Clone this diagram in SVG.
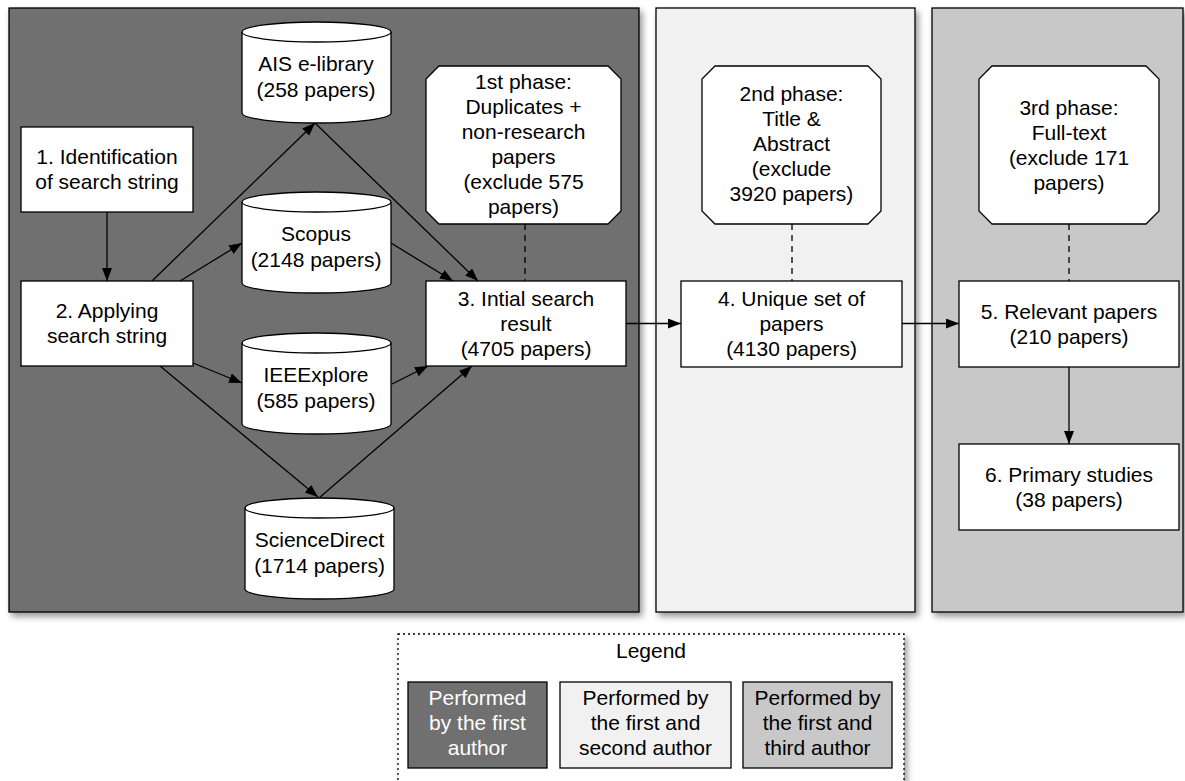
<svg xmlns="http://www.w3.org/2000/svg" width="1185" height="781" viewBox="0 0 1185 781">
<style>
text{font-family:"Liberation Sans",Arial,sans-serif;font-size:21px;fill:#000;text-anchor:middle}
.node{fill:#fff;stroke:#000;stroke-width:1.3}
.edge{fill:none;stroke:#000;stroke-width:1.3}
.dash{fill:none;stroke:#000;stroke-width:1.3;stroke-dasharray:6,5}
.panel{stroke:#000;stroke-width:1.3}
</style>
<defs>
<filter id="sh" x="-5%" y="-5%" width="115%" height="115%">
<feDropShadow dx="3" dy="4" stdDeviation="3" flood-color="#000" flood-opacity="0.4"/>
</filter>
<marker id="arr" markerUnits="userSpaceOnUse" markerWidth="14" markerHeight="12" refX="13" refY="5" orient="auto">
<path d="M0,0 L13,5 L0,10 Z" fill="#000"/>
</marker>
</defs>
<rect width="1185" height="781" fill="#fff"/>
<g id="panels">
<rect id="panel1" class="panel" x="9" y="8" width="630" height="604" fill="#707070" filter="url(#sh)"/>
<rect id="panel2" class="panel" x="656" y="8" width="259" height="604" fill="#f1f1f1" filter="url(#sh)"/>
<rect id="panel3" class="panel" x="932" y="8" width="251" height="604" fill="#c8c8c8" filter="url(#sh)"/>
</g>
<g id="connectors">
<line class="edge" x1="107" y1="212" x2="107" y2="281" marker-end="url(#arr)"/>
<line class="edge" x1="152" y1="281" x2="315" y2="123" marker-end="url(#arr)"/>
<line class="edge" x1="180" y1="281" x2="242" y2="243" marker-end="url(#arr)"/>
<line class="edge" x1="193" y1="363" x2="242" y2="383" marker-end="url(#arr)"/>
<line class="edge" x1="160" y1="366" x2="318" y2="497" marker-end="url(#arr)"/>
<line class="edge" x1="315" y1="123" x2="478" y2="281" marker-end="url(#arr)"/>
<line class="edge" x1="391" y1="243" x2="453" y2="281" marker-end="url(#arr)"/>
<line class="edge" x1="392" y1="384" x2="428" y2="366" marker-end="url(#arr)"/>
<line class="edge" x1="319" y1="498" x2="472" y2="366" marker-end="url(#arr)"/>
<line class="edge" x1="626" y1="323.5" x2="681" y2="323.5" marker-end="url(#arr)"/>
<line class="edge" x1="902" y1="323.5" x2="959" y2="323.5" marker-end="url(#arr)"/>
<line class="edge" x1="1069" y1="367" x2="1069" y2="444" marker-end="url(#arr)"/>
<line class="dash" x1="525" y1="224" x2="525" y2="281"/>
<line class="dash" x1="792" y1="224" x2="792" y2="281"/>
<line class="dash" x1="1069" y1="224" x2="1069" y2="281"/>
</g>
<g id="n1">
<rect class="node" x="21" y="127" width="172" height="85"/>
<text x="107" y="164">1. Identification</text>
<text x="107" y="189">of search string</text>
</g>
<g id="n2">
<rect class="node" x="21" y="281" width="172" height="85"/>
<text x="107" y="318">2. Applying</text>
<text x="107" y="343">search string</text>
</g>
<g id="ais">
<path class="node" d="M242,32 A74.5,10 0 0 1 391,32 L391,113 A74.5,10 0 0 1 242,113 Z"/>
<path class="edge" d="M242,32 A74.5,10 0 0 0 391,32"/>
<text x="316" y="71">AIS e-library</text>
<text x="316" y="97">(258 papers)</text>
</g>
<g id="scopus">
<path class="node" d="M242,202 A74.5,10 0 0 1 391,202 L391,283 A74.5,10 0 0 1 242,283 Z"/>
<path class="edge" d="M242,202 A74.5,10 0 0 0 391,202"/>
<text x="316" y="241">Scopus</text>
<text x="316" y="267">(2148 papers)</text>
</g>
<g id="ieee">
<path class="node" d="M242,343 A74.5,10 0 0 1 391,343 L391,424 A74.5,10 0 0 1 242,424 Z"/>
<path class="edge" d="M242,343 A74.5,10 0 0 0 391,343"/>
<text x="316" y="382">IEEExplore</text>
<text x="316" y="408">(585 papers)</text>
</g>
<g id="sciencedirect">
<path class="node" d="M245,508 A74.5,10 0 0 1 394,508 L394,589 A74.5,10 0 0 1 245,589 Z"/>
<path class="edge" d="M245,508 A74.5,10 0 0 0 394,508"/>
<text x="319.5" y="547">ScienceDirect</text>
<text x="319.5" y="573">(1714 papers)</text>
</g>
<g id="phase1">
<path class="node" d="M439,66 L608,66 L621,79 L621,211 L608,224 L439,224 L426,211 L426,79 Z"/>
<text x="523.5" y="88.5">1st phase:</text>
<text x="523.5" y="113.5">Duplicates +</text>
<text x="523.5" y="138.5">non-research</text>
<text x="523.5" y="163.5">papers</text>
<text x="523.5" y="188.5">(exclude 575</text>
<text x="523.5" y="213.5">papers)</text>
</g>
<g id="phase2">
<path class="node" d="M715,66 L868,66 L881,79 L881,211 L868,224 L715,224 L702,211 L702,79 Z"/>
<text x="791.5" y="100.5">2nd phase:</text>
<text x="791.5" y="125.5">Title &amp;</text>
<text x="791.5" y="150.5">Abstract</text>
<text x="791.5" y="175.5">(exclude</text>
<text x="791.5" y="200.5">3920 papers)</text>
</g>
<g id="phase3">
<path class="node" d="M992,66 L1146,66 L1159,79 L1159,211 L1146,224 L992,224 L979,211 L979,79 Z"/>
<text x="1069" y="115">3rd phase:</text>
<text x="1069" y="140">Full-text</text>
<text x="1069" y="165">(exclude 171</text>
<text x="1069" y="190">papers)</text>
</g>
<g id="n3">
<rect class="node" x="426" y="281" width="200" height="85"/>
<text x="526" y="305.5">3. Intial search</text>
<text x="526" y="330.5">result</text>
<text x="526" y="355.5">(4705 papers)</text>
</g>
<g id="n4">
<rect class="node" x="681" y="281" width="221" height="86"/>
<text x="791.5" y="306">4. Unique set of</text>
<text x="791.5" y="331">papers</text>
<text x="791.5" y="356">(4130 papers)</text>
</g>
<g id="n5">
<rect class="node" x="959" y="281" width="220" height="86"/>
<text x="1069" y="318.5">5. Relevant papers</text>
<text x="1069" y="343.5">(210 papers)</text>
</g>
<g id="n6">
<rect class="node" x="959" y="444" width="220" height="86"/>
<text x="1069" y="481.5">6. Primary studies</text>
<text x="1069" y="506.5">(38 papers)</text>
</g>
<g id="legend">
<rect x="398" y="634" width="506" height="152" fill="#fff" stroke="#000" stroke-width="1.3" stroke-dasharray="2,3" filter="url(#sh)"/>
<text x="651" y="658">Legend</text>
<rect x="408" y="682" width="139" height="86" fill="#707070" stroke="#000" stroke-width="1.3"/>
<text x="477.5" y="705" style="fill:#fff">Performed</text>
<text x="477.5" y="730" style="fill:#fff">by the first</text>
<text x="477.5" y="755" style="fill:#fff">author</text>
<rect x="560" y="682" width="171" height="86" fill="#f1f1f1" stroke="#000" stroke-width="1.3"/>
<text x="645.5" y="705">Performed by</text>
<text x="645.5" y="730">the first and</text>
<text x="645.5" y="755">second author</text>
<rect x="743" y="682" width="149" height="86" fill="#c8c8c8" stroke="#000" stroke-width="1.3"/>
<text x="817.5" y="705">Performed by</text>
<text x="817.5" y="730">the first and</text>
<text x="817.5" y="755">third author</text>
</g>
</svg>
